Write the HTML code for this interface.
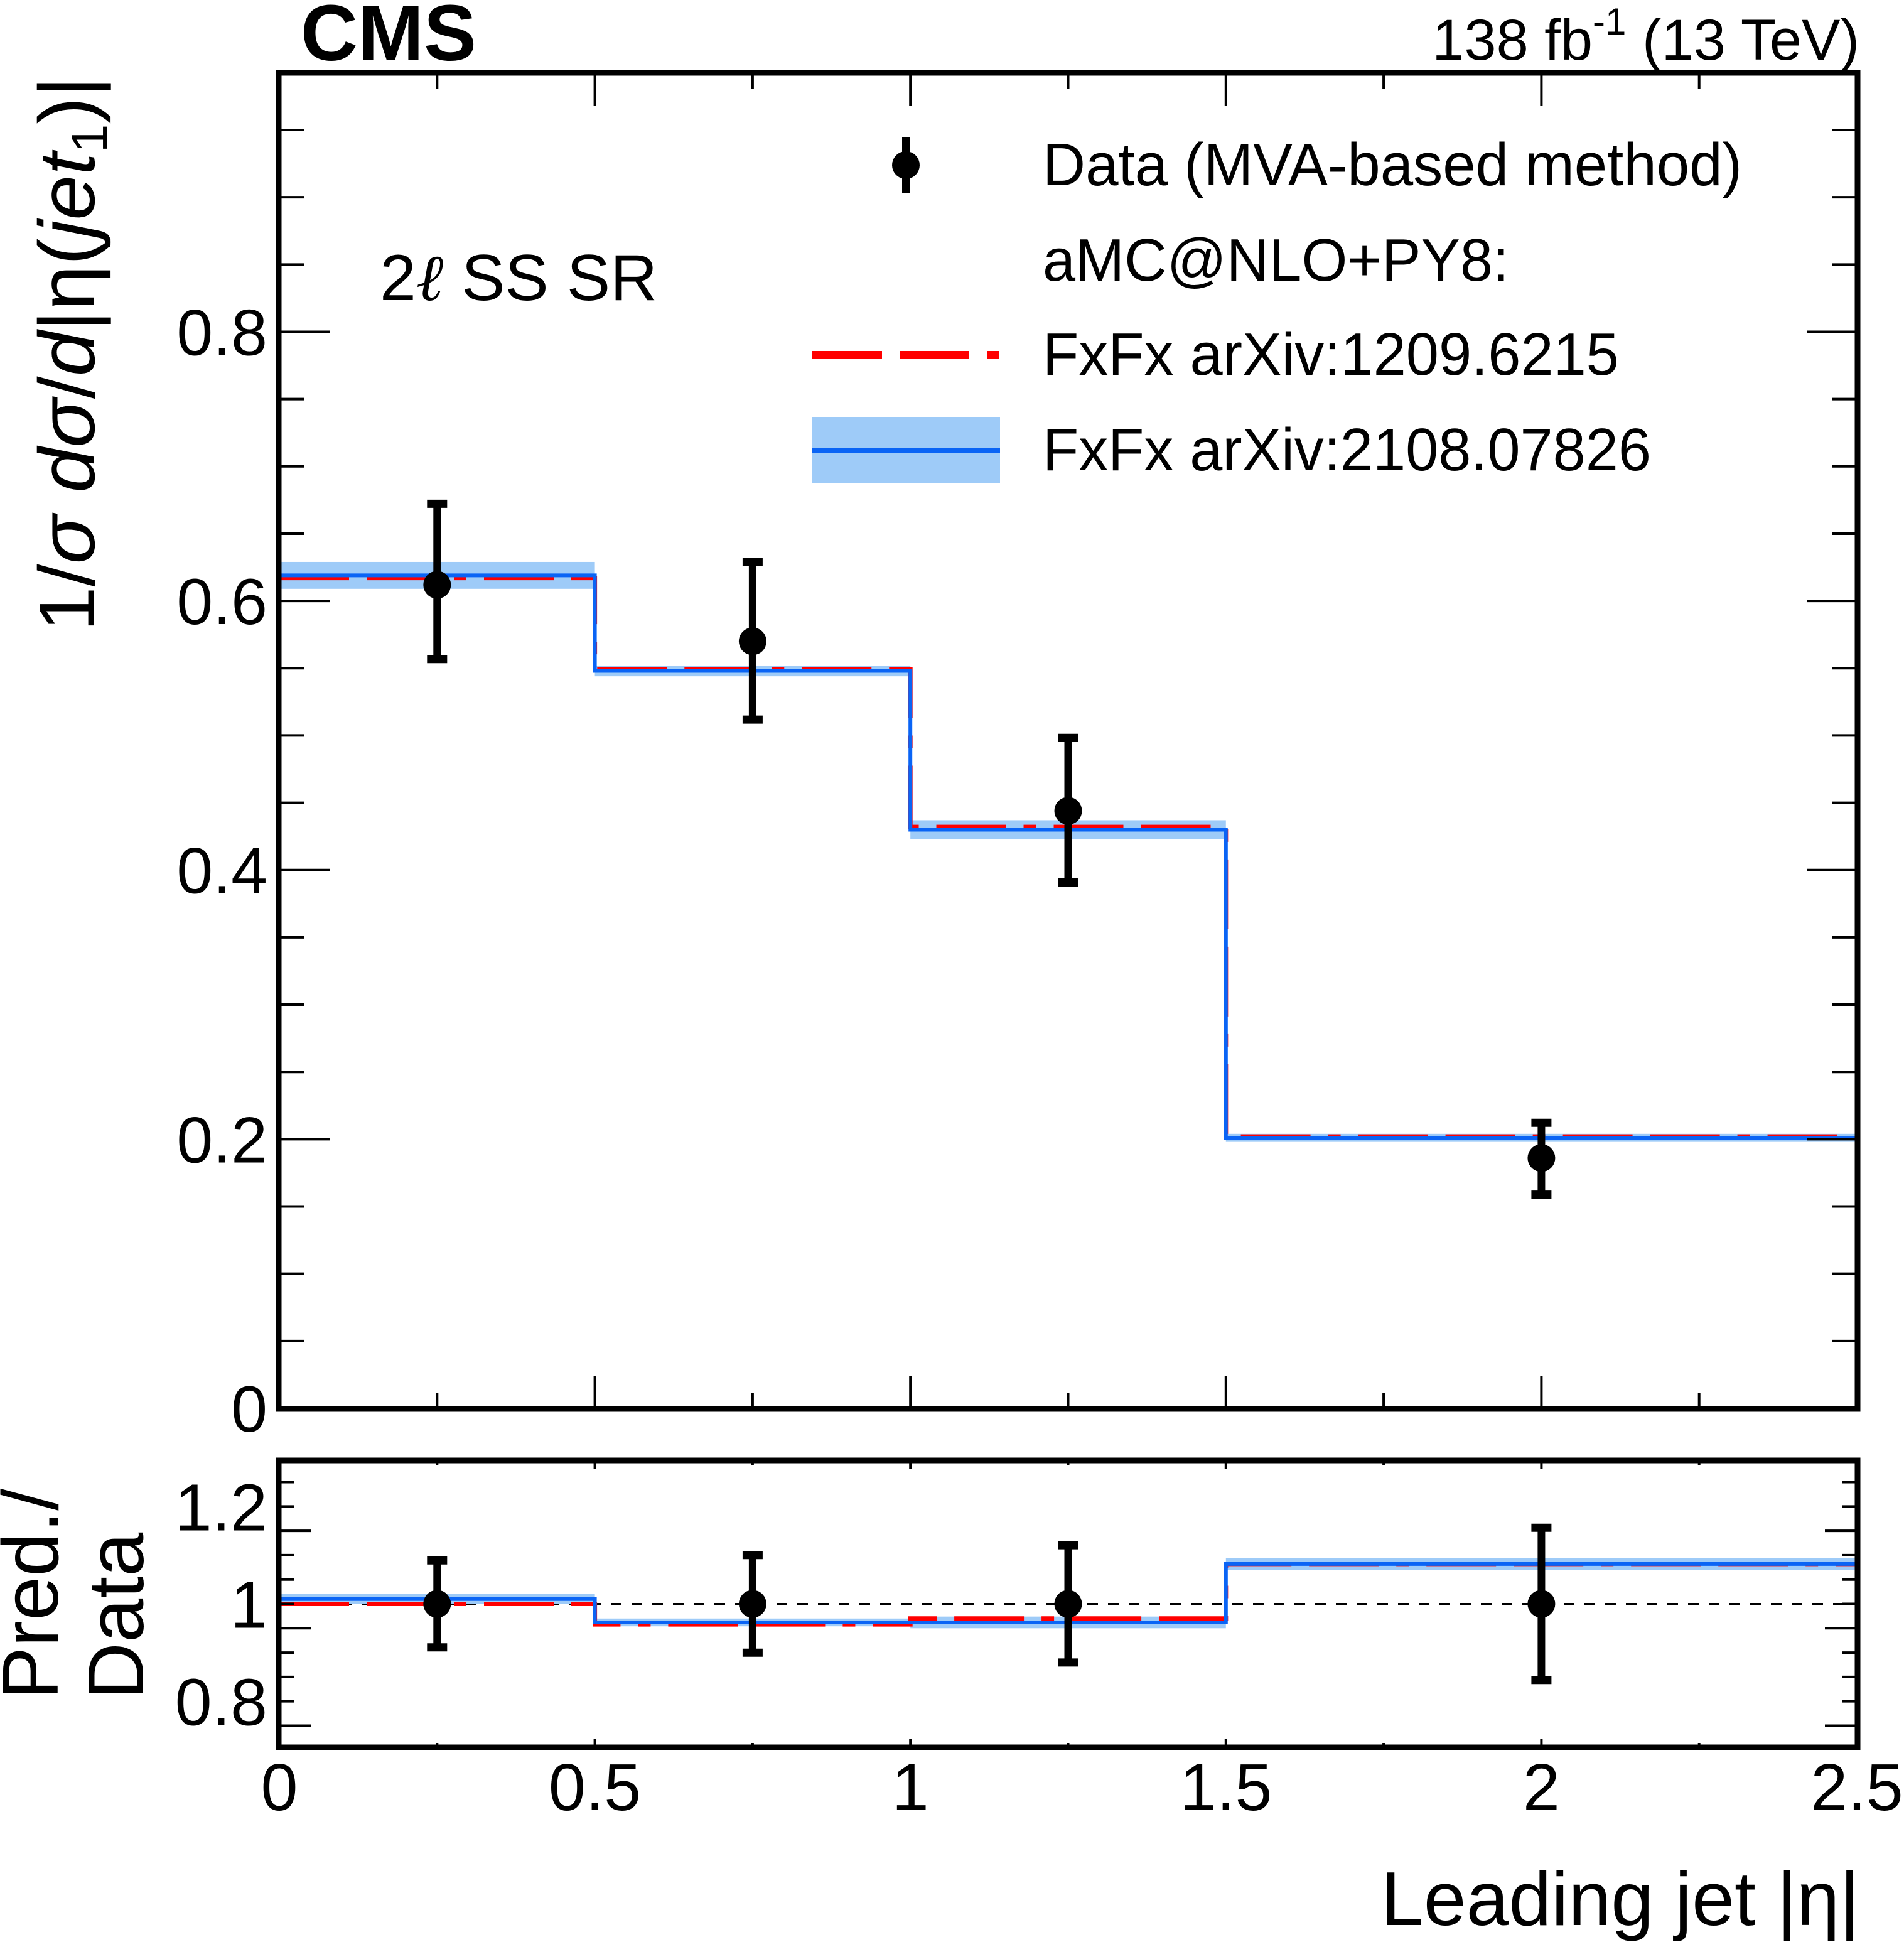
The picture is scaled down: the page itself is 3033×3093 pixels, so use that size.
<!DOCTYPE html>
<html><head><meta charset="utf-8"><style>
html,body{margin:0;padding:0;background:#fff;}
svg{display:block;font-family:"Liberation Sans",sans-serif;}
</style></head><body>
<svg id="chart" width="3033" height="3093" viewBox="0 0 3033 3093" xmlns="http://www.w3.org/2000/svg">
<rect x="0" y="0" width="3033" height="3093" fill="#fff"/>
<g id="layer"></g>
<text x="479" y="96" font-size="126" font-weight="bold">CMS</text>
<text x="2962" y="95" font-size="92" text-anchor="end">138 fb<tspan font-size="60" dy="-40">-1</tspan><tspan dy="40"> (13 TeV)</tspan></text>
<text x="605" y="478" font-size="104">2<tspan font-family="'Liberation Serif',serif" font-style="italic">ℓ</tspan> SS SR</text>
<text transform="translate(150,1006) rotate(-90)" font-size="126" textLength="885" lengthAdjust="spacingAndGlyphs">1/<tspan font-style="italic">σ</tspan> <tspan font-style="italic">d</tspan><tspan font-style="italic">σ</tspan>/<tspan font-style="italic">d</tspan>|η(<tspan font-style="italic">jet</tspan><tspan font-size="80" dy="20">1</tspan><tspan dy="-20">)|</tspan></text>
<text transform="translate(92,2707) rotate(-90)" font-size="126">Pred./</text>
<text transform="translate(228,2707) rotate(-90)" font-size="126">Data</text>
<text x="2962" y="3066" font-size="122" text-anchor="end">Leading jet |η|</text>
<g>
 <line x1="1443" y1="218" x2="1443" y2="308" stroke="#000" stroke-width="12"/>
 <circle cx="1443" cy="263" r="22" fill="#000"/>
 <text x="1661" y="295" font-size="96" textLength="1114" lengthAdjust="spacingAndGlyphs">Data (MVA-based method)</text>
 <text x="1661" y="447" font-size="96" textLength="743" lengthAdjust="spacingAndGlyphs">aMC@NLO+PY8:</text>
 <line x1="1294" y1="565" x2="1593" y2="565" stroke="#ff0000" stroke-width="12" stroke-dasharray="111,28,111,28,20,28"/>
 <text x="1661" y="597" font-size="96" textLength="918" lengthAdjust="spacingAndGlyphs">FxFx arXiv:1209.6215</text>
 <rect x="1294" y="664" width="299" height="106" fill="#9ecbf8"/>
 <line x1="1294" y1="717" x2="1593" y2="717" stroke="#0a64f5" stroke-width="8"/>
 <text x="1661" y="749" font-size="96" textLength="969" lengthAdjust="spacingAndGlyphs">FxFx arXiv:2108.07826</text>
</g>
</svg>
<script>
const binEdges = [0, 0.5, 1.0, 1.5, 2.5];
const binCenters = [0.25, 0.75, 1.25, 2.0];
const dataValues = [0.612, 0.570, 0.444, 0.186];
const dataErrUp = [0.063, 0.062, 0.057, 0.029];
const dataErrDown = [0.058, 0.061, 0.056, 0.030];
const predRed = [0.617, 0.549, 0.432, 0.202];
const predBlue = [0.619, 0.548, 0.430, 0.201];
const blueBandHalf = [0.010, 0.004, 0.007, 0.003];
const ratioRed = [1.000, 0.958, 0.970, 1.082];
const ratioBlue = [1.010, 0.962, 0.962, 1.082];
const ratioBandHalf = [0.010, 0.008, 0.012, 0.012];
const ratioErr = [0.097, 0.108, 0.128, 0.164];
const mainYTicks = [0, 0.2, 0.4, 0.6, 0.8];
const mainYTickLabels = ["0", "0.2", "0.4", "0.6", "0.8"];
const ratioYTicks = [0.8, 1.0, 1.2];
const ratioYTickLabels = ["0.8", "1", "1.2"];
const xTicks = [0, 0.5, 1, 1.5, 2, 2.5];
const xTickLabels = ["0", "0.5", "1", "1.5", "2", "2.5"];

const NS = "http://www.w3.org/2000/svg";
const layer = document.getElementById('layer');
const L = 445, R = 2958;
const mT = 117, mB = 2243, mMin = 0, mMax = 0.992;
const rT = 2326, rB = 2783, rMin = 0.7055, rMax = 1.2945;
const xS = v => L + (v - 0) / 2.5 * (R - L);
const yM = v => mB - (v - mMin) / (mMax - mMin) * (mB - mT);
const yR = v => rB - (v - rMin) / (rMax - rMin) * (rB - rT);

function mk(tag, attrs) {
  const e = document.createElementNS(NS, tag);
  for (const k in attrs) e.setAttribute(k, attrs[k]);
  layer.appendChild(e);
  return e;
}

function stepPath(vals, ys) {
  let d = "M" + xS(binEdges[0]) + "," + ys(vals[0]);
  for (let i = 0; i < vals.length; i++) {
    d += " L" + xS(binEdges[i + 1]) + "," + ys(vals[i]);
    if (i + 1 < vals.length) d += " L" + xS(binEdges[i + 1]) + "," + ys(vals[i + 1]);
  }
  return d;
}

function drawPanel(prefix, ys, red, blue, band) {
  for (let i = 0; i < blue.length; i++) {
    const b = mk('rect', {x: xS(binEdges[i]), y: ys(blue[i] + band[i]), width: xS(binEdges[i + 1]) - xS(binEdges[i]), height: Math.max(ys(blue[i] - band[i]) - ys(blue[i] + band[i]), 2), fill: '#9ecbf8'});
    
    
  }
  const pr = mk('path', {d: stepPath(red, ys), fill: 'none', stroke: '#ff0000', 'stroke-width': 7, 'stroke-dasharray': '111,28,111,28,20,28'});
  
  
  const pb = mk('path', {d: stepPath(blue, ys), fill: 'none', stroke: '#0a64f5', 'stroke-width': 6});
  
  
}

const ref = mk('line', {x1: L, x2: R, y1: yR(1), y2: yR(1), stroke: '#000', 'stroke-width': 3, 'stroke-dasharray': '17,16'});



drawPanel('main', yM, predRed, predBlue, blueBandHalf);
drawPanel('ratio', yR, ratioRed, ratioBlue, ratioBandHalf);

function drawPoint(name, x, y, yu, yd) {
  const l = mk('line', {x1: x, x2: x, y1: yu, y2: yd, stroke: '#000', 'stroke-width': 12});
  
  
  const c1 = mk('line', {x1: x - 16, x2: x + 16, y1: yu + 6, y2: yu + 6, stroke: '#000', 'stroke-width': 13});
  
  
  const c2 = mk('line', {x1: x - 16, x2: x + 16, y1: yd - 6, y2: yd - 6, stroke: '#000', 'stroke-width': 13});
  
  
  const c = mk('circle', {cx: x, cy: y, r: 22, fill: '#000'});
  
  
}
for (let i = 0; i < binCenters.length; i++) {
  drawPoint('data-point-' + (i + 1), xS(binCenters[i]), yM(dataValues[i]), yM(dataValues[i] + dataErrUp[i]), yM(dataValues[i] - dataErrDown[i]));
  drawPoint('ratio-point-' + (i + 1), xS(binCenters[i]), yR(1), yR(1 + ratioErr[i]), yR(1 - ratioErr[i]));
}

const f1 = mk('rect', {x: L - 1, y: mT - 1, width: R - L + 2, height: mB - mT + 2, fill: 'none', stroke: '#000', 'stroke-width': 9});


const f2 = mk('rect', {x: L - 1, y: rT, width: R - L + 2, height: rB - rT, fill: 'none', stroke: '#000', 'stroke-width': 9});



function yTicks(prefix, ys, lo, hi, step, majorEvery, majLen, minLen) {
  const n = Math.round((hi - lo) / step);
  for (let k = 0; k <= n; k++) {
    const v = lo + k * step;
    const major = (k % majorEvery) === 0;
    const len = major ? majLen : minLen;
    const y = ys(v);
    const t1 = mk('line', {x1: L, x2: L + len, y1: y, y2: y, stroke: '#000', 'stroke-width': 4});
    
    
    const t2 = mk('line', {x1: R - len, x2: R, y1: y, y2: y, stroke: '#000', 'stroke-width': 4});
    
    
  }
}
yTicks('main', yM, 0, 0.95, 0.05, 4, 80, 39);
yTicks('ratio', yR, 0.75, 1.25, 0.05, 4, 51, 23);

function xTickMarks(prefix, top, bot, majLen, minLen) {
  for (let k = 0; k <= 10; k++) {
    const v = k * 0.25;
    const len = (k % 2 === 0) ? majLen : minLen;
    const x = xS(v);
    const a = mk('line', {x1: x, x2: x, y1: bot, y2: bot - len, stroke: '#000', 'stroke-width': 4});
    
    
    const b = mk('line', {x1: x, x2: x, y1: top, y2: top + len, stroke: '#000', 'stroke-width': 4});
    
    
  }
}
xTickMarks('main', mT, mB, 52, 25);
xTickMarks('ratio', rT, rB, 14, 7);

function label(name, x, y, txt, size, anchor) {
  const t = mk('text', {x: x, y: y, 'font-size': size, 'text-anchor': anchor});
  t.textContent = txt;
  
  
}
for (let i = 0; i < mainYTicks.length; i++) label('main-y-tick-label', 426, yM(mainYTicks[i]) + 37, mainYTickLabels[i], 104, 'end');
for (let i = 0; i < ratioYTicks.length; i++) label('ratio-y-tick-label', 426, yR(ratioYTicks[i]) + 38, ratioYTickLabels[i], 106, 'end');
for (let i = 0; i < xTicks.length; i++) label('x-tick-label', xS(xTicks[i]), 2883, xTickLabels[i], 106, 'middle');
</script>
</body></html>
